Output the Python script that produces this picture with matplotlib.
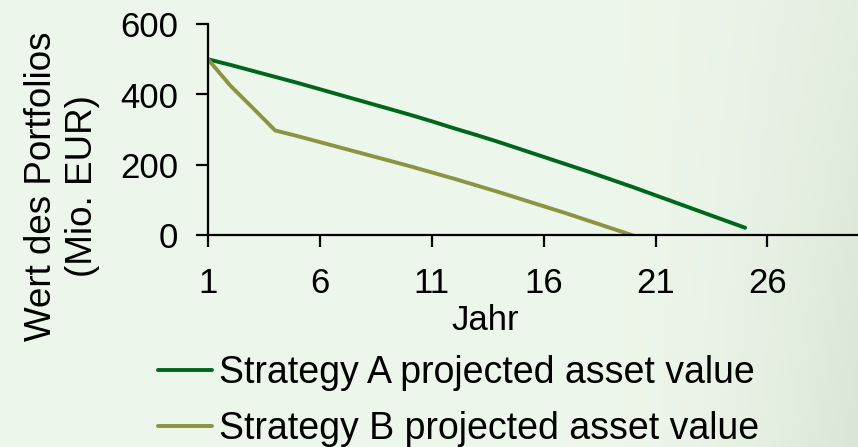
import numpy as np
import matplotlib
matplotlib.use("Agg")
import matplotlib.pyplot as plt

plt.rcParams['font.family'] = ['Liberation Sans', 'DejaVu Sans']

# ---- data ----
years_a = list(range(1, 26))
strategy_a = [500, 484, 467, 450, 433, 415, 397, 379, 361, 343, 324, 304, 285,
              265, 244, 223, 202, 181, 159, 137, 114, 91, 68, 45, 22]
years_b = list(range(1, 21))
strategy_b = [500, 425, 362, 298, 282, 265, 248, 231, 214, 197, 179, 161, 142,
              123, 103, 83, 63, 42, 21, 0]
x_ticks = [1, 6, 11, 16, 21, 26]
y_ticks = [0, 200, 400, 600]
label_a = "Strategy A projected asset value"
label_b = "Strategy B projected asset value"
x_label = "Jahr"
y_label = "Wert des Portfolios\n(Mio. EUR)"

W, H = 858, 447
fig = plt.figure(figsize=(W / 100, H / 100), dpi=100)

# background gradient
bg = fig.add_axes([0, 0, 1, 1])
xx, yy = np.meshgrid(np.linspace(0, 1, 300), np.linspace(0, 1, 160))
c0 = np.array([0.932, 0.965, 0.918])
c1 = np.array([0.855, 0.900, 0.845])
w = np.clip((xx - 0.72) / 0.28, 0, 1) ** 1.6 * (0.55 + 0.45 * yy)
img = c0[None, None, :] * (1 - w[..., None]) + c1[None, None, :] * w[..., None]
bg.imshow(img, extent=[0, 1, 0, 1], aspect='auto', origin='upper')
bg.set_axis_off()

left, right = 208 / W, 857 / W
bottom, top = 1 - 235.5 / H, 1 - 24 / H
ax = fig.add_axes([left, bottom, right - left, top - bottom])
ax.patch.set_alpha(0)

ax.plot(years_a, strategy_a, color='#00661c', lw=2.8, label=label_a,
        solid_capstyle='round', solid_joinstyle='round')
ax.plot(years_b, strategy_b, color='#8b9440', lw=2.8, label=label_b,
        solid_capstyle='round', solid_joinstyle='round')

ax.set_xlim(1, 30)
ax.set_ylim(0, 600)
ax.set_xticks(x_ticks)
ax.set_yticks(y_ticks)
for s in ['top', 'right']:
    ax.spines[s].set_visible(False)
for s in ['left', 'bottom']:
    ax.spines[s].set_linewidth(1.6)
    ax.spines[s].set_color('black')
ax.tick_params(axis='both', direction='out', length=8.5, width=1.6,
               labelsize=25, colors='black')
ax.tick_params(axis='y', pad=13)
ax.tick_params(axis='x', pad=14)

ax.set_xlabel(x_label, fontsize=25)
ax.xaxis.set_label_coords((485 - 208) / 649, (235.5 - 304) / 211.5)

fig.text(62 / W, 1 - 186 / H, y_label, rotation=90, ha='center', va='center',
         multialignment='center', fontsize=26.5)

leg = fig.legend(loc='center left', bbox_to_anchor=(158 / W, 1 - 401 / H),
                 frameon=False, fontsize=27, handlelength=1.45,
                 handletextpad=0.17, labelspacing=0.52, borderpad=0,
                 borderaxespad=0)

fig.savefig('out.png', dpi=100)
